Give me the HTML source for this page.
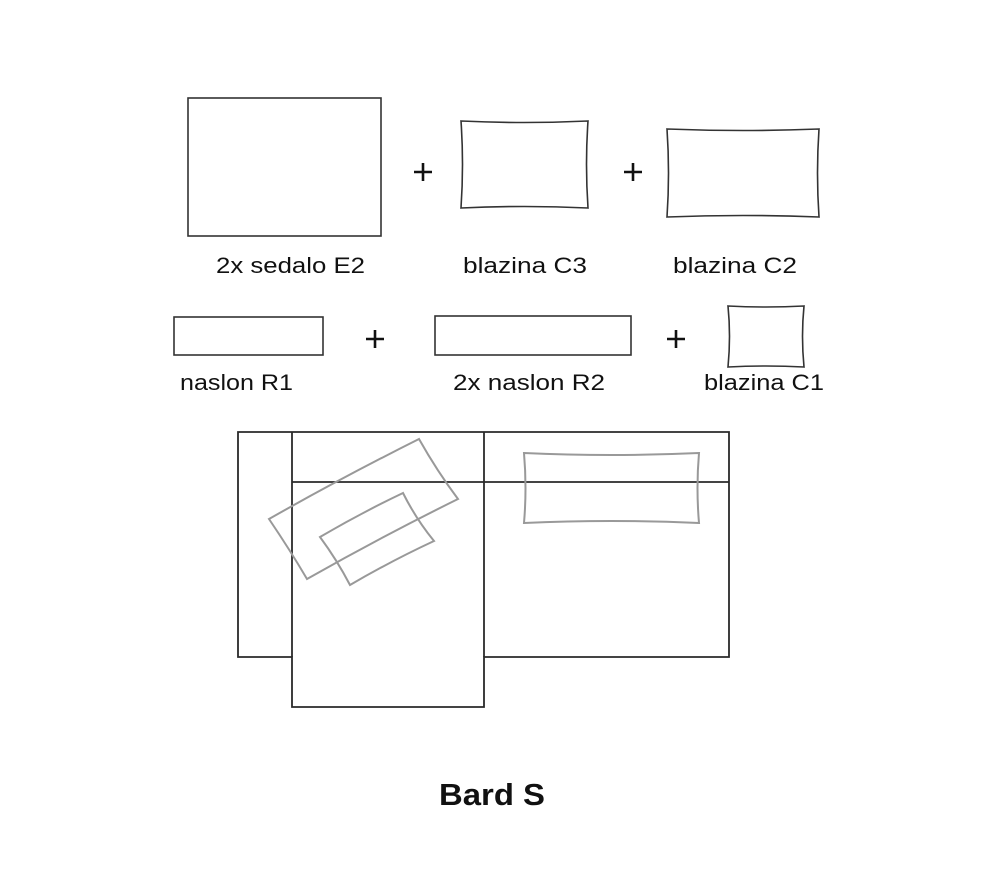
<!DOCTYPE html>
<html><head><meta charset="utf-8"><style>
html,body{margin:0;padding:0;background:#fff;}
svg{display:block;}
text{font-family:"Liberation Sans",sans-serif;fill:#111;}
</style></head><body>
<svg width="989" height="880" viewBox="0 0 989 880" xmlns="http://www.w3.org/2000/svg">
<g fill="none" stroke="#333" stroke-width="1.6">
<rect x="188" y="98" width="193" height="138"/>
<path d="M461,121 Q524,124 588,121 Q585,164 588,208 Q524,205 461,208 Q464,164 461,121Z"/>
<path d="M667,129 Q743,132 819,129 Q816,173 819,217 Q743,214 667,217 Q670,173 667,129Z"/>
<rect x="174" y="317" width="149" height="38"/>
<rect x="435" y="316" width="196" height="39"/>
<path d="M728,306 Q766,308 804,306 Q801,336 804,367 Q766,365 728,367 Q731,336 728,306Z"/>
</g>
<g stroke="#111" stroke-width="2.6">
<line x1="414" y1="172" x2="432" y2="172"/><line x1="423" y1="163" x2="423" y2="181"/>
<line x1="624" y1="172" x2="642" y2="172"/><line x1="633" y1="163" x2="633" y2="181"/>
<line x1="366" y1="339" x2="384" y2="339"/><line x1="375" y1="330" x2="375" y2="348"/>
<line x1="667" y1="339" x2="685" y2="339"/><line x1="676" y1="330" x2="676" y2="348"/>
</g>
<g font-size="22">
<text x="216" y="273" textLength="149" lengthAdjust="spacingAndGlyphs">2x sedalo E2</text>
<text x="463" y="273" textLength="124" lengthAdjust="spacingAndGlyphs">blazina C3</text>
<text x="673" y="273" textLength="124" lengthAdjust="spacingAndGlyphs">blazina C2</text>
<text x="180" y="390" textLength="113" lengthAdjust="spacingAndGlyphs">naslon R1</text>
<text x="453" y="390" textLength="152" lengthAdjust="spacingAndGlyphs">2x naslon R2</text>
<text x="704" y="390" textLength="120" lengthAdjust="spacingAndGlyphs">blazina C1</text>
</g>
<g fill="none" stroke="#2a2a2a" stroke-width="1.8">
<path d="M238,432 H729 V657 H484 V707 H292 V657 H238 Z"/>
<line x1="292" y1="432" x2="292" y2="657"/>
<line x1="484" y1="432" x2="484" y2="657"/>
<line x1="292" y1="482" x2="729" y2="482"/>
</g>
<g fill="none" stroke="#999" stroke-width="2">
<path d="M269,519 Q343,477 419,439 Q437,471 458,499 Q381,537 307,579 Q290,550 269,519Z"/>
<path d="M320,537 Q361,513 403,493 Q416,519 434,541 Q391,561 350,585 Q337,560 320,537Z"/>
<path d="M524,453 Q611,457 699,453 Q696,488 699,523 Q611,519 524,523 Q527,488 524,453Z"/>
</g>
<text x="439" y="805" font-size="31" font-weight="bold" textLength="106" lengthAdjust="spacingAndGlyphs">Bard S</text>
</svg>
</body></html>
